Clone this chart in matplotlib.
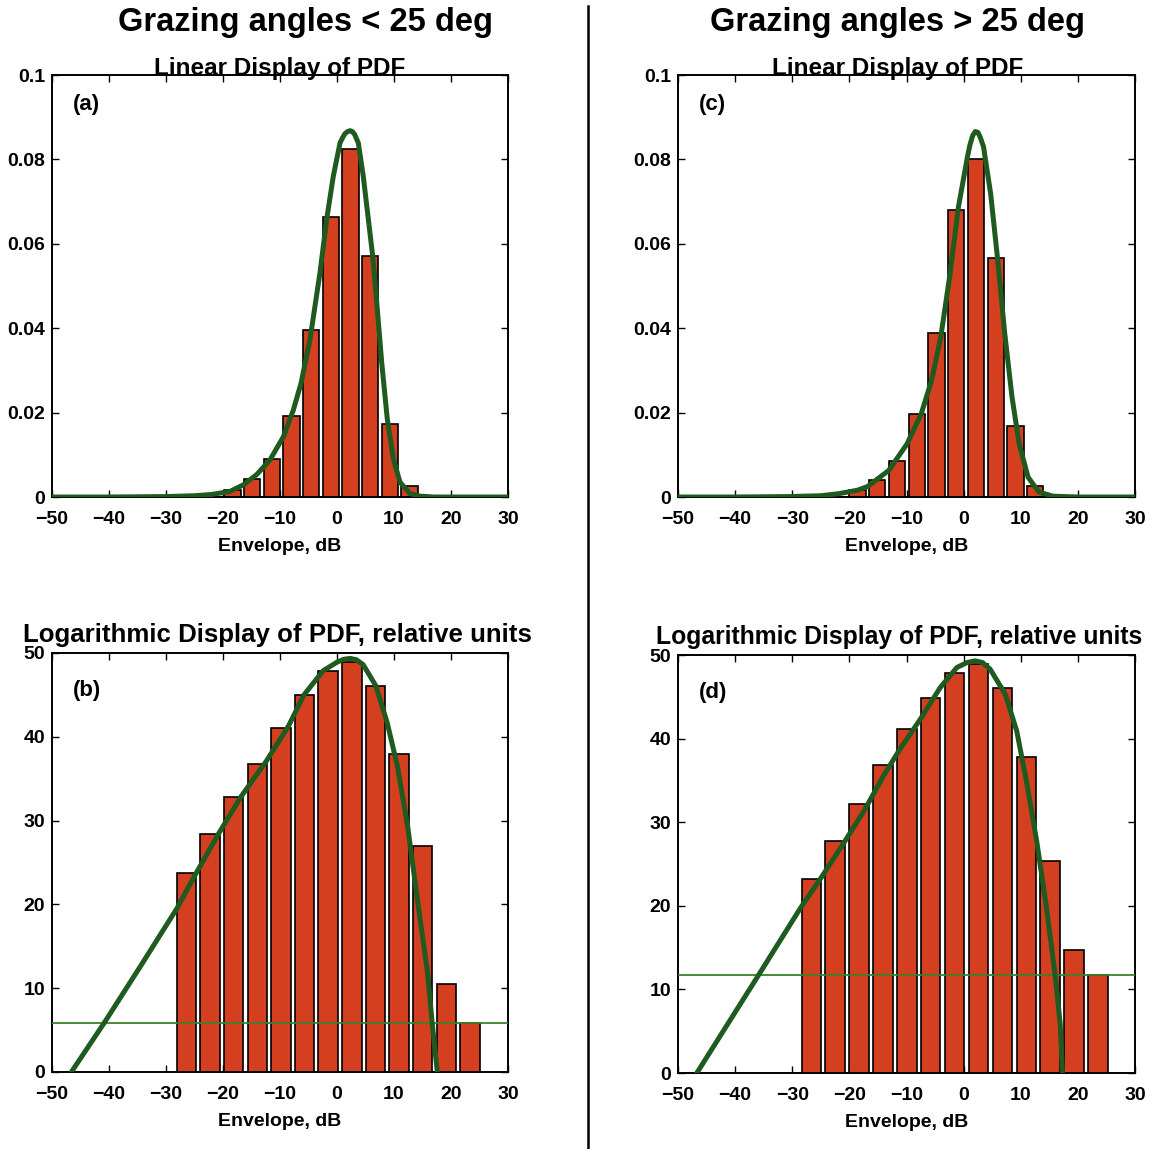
import matplotlib
matplotlib.use("Agg")
import matplotlib.pyplot as plt
from matplotlib.lines import Line2D

# ---- histogram data: linear PDF (bin centres in dB, probability density) ----
lin_centers_a = [-18.33, -14.88, -11.43, -7.98, -4.53, -1.08, 2.37, 5.82, 9.27, 12.72]
lin_heights_a = [0.0017, 0.0042, 0.0090, 0.0193, 0.0395, 0.0664, 0.0824, 0.0571, 0.0172, 0.0027]

lin_centers_c = [-18.6, -15.14, -11.68, -8.22, -4.76, -1.3, 2.16, 5.62, 9.08, 12.54]
lin_heights_c = [0.0016, 0.0040, 0.0085, 0.0196, 0.0389, 0.0680, 0.0802, 0.0566, 0.0168, 0.0025]

# ---- histogram data: logarithmic display (relative dB units) ----
log_centers_b = [-26.45, -22.3, -18.15, -14.0, -9.85, -5.7, -1.55, 2.6, 6.75, 10.9, 15.05, 19.2, 23.35]
log_heights_b = [23.7, 28.4, 32.8, 36.8, 41.0, 45.0, 47.9, 48.9, 46.1, 38.0, 27.0, 10.5, 5.8]

log_centers_d = [-26.66, -22.48, -18.3, -14.12, -9.94, -5.76, -1.58, 2.6, 6.78, 10.96, 15.14, 19.32, 23.5]
log_heights_d = [23.2, 27.7, 32.2, 36.8, 41.1, 44.8, 47.8, 48.9, 46.0, 37.8, 25.4, 14.7, 11.7]

# noise floor levels drawn as horizontal reference lines
floor_b = 5.8
floor_d = 11.7

# ---- fitted model curves ----
fit_lin_x_a = [-50, -40, -30, -25, -22, -18.8, -16.4, -14.1, -11.75, -9.4, -7.66, -6.3, -4.74,
               -2.98, -1.81, -0.65, 0.53, 1.0, 1.4, 1.85, 2.28, 2.7, 3.1, 3.74, 4.61, 5.5, 6.26,
               7.07, 7.84, 8.82, 9.88, 11.05, 12.8, 14.56, 17, 20, 30]
fit_lin_y_a = [0, 0, 0.0001, 0.0003, 0.0006, 0.0013, 0.0029, 0.0053, 0.0088, 0.0143, 0.0206,
               0.0270, 0.0373, 0.0532, 0.0658, 0.0760, 0.0839, 0.0852, 0.0861, 0.0866, 0.0868,
               0.0866, 0.0859, 0.0839, 0.0760, 0.0658, 0.0571, 0.0445, 0.0319, 0.0185, 0.0091,
               0.0035, 0.0008, 0.0002, 0, 0, 0]

fit_lin_x_c = [-50, -40, -30.5, -25, -21.8, -18.6, -16.8, -13.1, -9.9, -7.4, -5.6, -4.0, -2.45,
               -0.9, 0.67, 1.1, 1.6, 2.04, 2.5, 2.9, 3.48, 4.73, 5.97, 7.2, 8.47, 9.72, 11.28,
               13.15, 15.6, 20, 30]
fit_lin_y_c = [0, 0, 0.0001, 0.0003, 0.0008, 0.0016, 0.0025, 0.0063, 0.0126, 0.0198, 0.0277,
               0.0379, 0.0522, 0.0688, 0.0806, 0.0834, 0.0857, 0.0866, 0.0864, 0.0853, 0.0830,
               0.0719, 0.0561, 0.0387, 0.0237, 0.0126, 0.0047, 0.0012, 0.0002, 0, 0]

fit_log_x_b = [-46.6, -40.9, -34.5, -28.1, -24.9, -20.9, -16.8, -12.4, -8.5, -5.8, -2.4, 0.0,
               1.2, 2.3, 3.4, 4.6, 6.8, 8.8, 10.6, 12.4, 14.1, 15.9, 16.7, 17.6]
fit_log_y_b = [0, 5.8, 12.6, 19.5, 23.5, 28.3, 32.9, 37.1, 41.3, 45.0, 47.9, 48.9,
               49.25, 49.35, 49.2, 48.6, 46.1, 41.7, 36.5, 29.3, 20.6, 11.8, 5.8, 0]

fit_log_x_d = [-46.7, -36.0, -28.5, -25.0, -20.9, -17.4, -13.9, -11.0, -7.6, -4.1, -1.2, 0.6,
               2.0, 3.3, 4.65, 7.3, 9.3, 11.0, 12.8, 14.5, 16.0, 16.9, 17.3]
fit_log_y_d = [0, 11.6, 19.8, 23.3, 27.6, 31.4, 35.7, 38.9, 42.3, 46.1, 48.5, 49.1,
               49.3, 49.1, 48.3, 45.3, 40.9, 34.9, 27.7, 19.8, 11.8, 5.9, 0]

x_ticks = [-50, -40, -30, -20, -10, 0, 10, 20, 30]
lin_yticks = [0, 0.02, 0.04, 0.06, 0.08, 0.1]
lin_yticklabels = ["0", "0.02", "0.04", "0.06", "0.08", "0.1"]
log_yticks = [0, 10, 20, 30, 40, 50]

col_titles = ["Grazing angles < 25 deg", "Grazing angles > 25 deg"]
lin_title = "Linear Display of PDF"
log_title = "Logarithmic Display of PDF, relative units"
x_label = "Envelope, dB"

BAR_COLOR = "#d4401f"
CURVE_COLOR = "#1f5a1f"
FLOOR_COLOR = "#3d7f2c"

plt.rcParams["font.family"] = ["Liberation Sans", "DejaVu Sans"]
plt.rcParams["font.weight"] = "bold"

W, H = 1150, 1149
fig = plt.figure(figsize=(W / 100, H / 100), dpi=100)
fig.patch.set_facecolor("white")


def rect(left, right, top, bottom):
    return [left / W, 1 - bottom / H, (right - left) / W, (bottom - top) / H]


def style_axes(ax, yticks, yticklabels=None):
    ax.set_xlim(-50, 30)
    ax.set_xticks(x_ticks)
    ax.set_yticks(yticks)
    if yticklabels is not None:
        ax.set_yticklabels(yticklabels)
    ax.tick_params(axis="both", direction="in", top=True, right=True,
                   length=5, width=1.0, labelsize=14)
    ax.tick_params(axis="x", pad=10)
    ax.tick_params(axis="y", pad=5)
    for lab in ax.get_xticklabels() + ax.get_yticklabels():
        lab.set_fontweight("bold")
    for sp in ax.spines.values():
        sp.set_linewidth(1.4)
    ax.set_xlabel(x_label, fontsize=14, fontweight="bold", labelpad=7)


def linear_panel(ax, centers, heights, fx, fy, tag, title_x):
    ax.bar(centers, heights, width=2.85, color=BAR_COLOR, edgecolor="black",
           linewidth=1.2, zorder=2)
    ax.plot(fx, fy, color=CURVE_COLOR, lw=3.6, solid_capstyle="round",
            solid_joinstyle="round", zorder=3)
    ax.set_ylim(0, 0.1)
    style_axes(ax, lin_yticks, lin_yticklabels)
    ax.text(title_x, 1.0, lin_title, transform=ax.transAxes, fontsize=17.5,
            fontweight="bold", ha="center", va="baseline")
    ax.text(0.045, 0.93, tag, transform=ax.transAxes, fontsize=16,
            fontweight="bold", va="center", ha="left")


def log_panel(ax, centers, heights, fx, fy, floor, tag, title_x, title_size):
    ax.bar(centers, heights, width=3.4, color=BAR_COLOR, edgecolor="black",
           linewidth=1.2, zorder=2)
    ax.axhline(floor, color=FLOOR_COLOR, lw=1.3, zorder=3)
    ax.plot(fx, fy, color=CURVE_COLOR, lw=3.6, solid_capstyle="round",
            solid_joinstyle="round", zorder=4)
    ax.set_ylim(0, 50)
    style_axes(ax, log_yticks)
    ax.text(title_x, 1.027, log_title, transform=ax.transAxes, fontsize=title_size,
            fontweight="bold", ha="center", va="baseline")
    ax.text(0.045, 0.91, tag, transform=ax.transAxes, fontsize=16,
            fontweight="bold", va="center", ha="left")


ax_a = fig.add_axes(rect(52, 508, 75, 497))
ax_c = fig.add_axes(rect(678, 1135, 75, 497))
ax_b = fig.add_axes(rect(52, 508, 653, 1072))
ax_d = fig.add_axes(rect(678, 1135, 655, 1073))

linear_panel(ax_a, lin_centers_a, lin_heights_a, fit_lin_x_a, fit_lin_y_a, "(a)", 0.5)
linear_panel(ax_c, lin_centers_c, lin_heights_c, fit_lin_x_c, fit_lin_y_c, "(c)", 0.48)
log_panel(ax_b, log_centers_b, log_heights_b, fit_log_x_b, fit_log_y_b, floor_b, "(b)",
          0.4945, 18.6)
log_panel(ax_d, log_centers_d, log_heights_d, fit_log_x_d, fit_log_y_d, floor_d, "(d)",
          0.4836, 17.8)

# column headings
fig.text(305 / W, 1 - 22 / H, col_titles[0], fontsize=23.5, fontweight="bold",
         ha="center", va="center")
fig.text(898 / W, 1 - 22 / H, col_titles[1], fontsize=23.5, fontweight="bold",
         ha="center", va="center")

# divider between the two columns
fig.add_artist(Line2D([588 / W, 588 / W], [1 - 6 / H, 0], transform=fig.transFigure,
                      color="black", lw=1.8))

fig.savefig("out.png", dpi=100, facecolor="white")
